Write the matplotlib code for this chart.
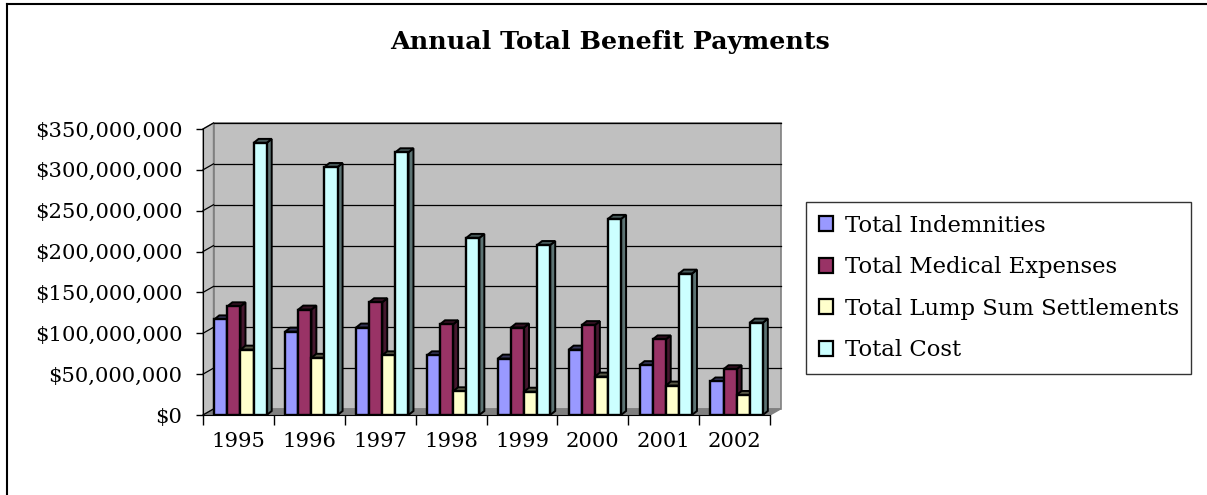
import matplotlib
matplotlib.use("Agg")
import matplotlib.pyplot as plt
import numpy as np
from matplotlib.patches import Polygon, Rectangle, Patch
from matplotlib.lines import Line2D
from matplotlib.ticker import FuncFormatter, MultipleLocator

years = ['1995', '1996', '1997', '1998', '1999', '2000', '2001', '2002']
indemnities = [117e6, 102e6, 107e6, 73e6, 69e6, 80e6, 61e6, 41e6]
medical = [133e6, 129e6, 138e6, 111e6, 107e6, 110e6, 92.5e6, 56e6]
lump_sum = [80e6, 70e6, 73e6, 29e6, 28.5e6, 47e6, 36e6, 24.5e6]
total_cost = [333e6, 303.5e6, 321.5e6, 216.7e6, 208e6, 240e6, 173e6, 113e6]
series_names = ['Total Indemnities', 'Total Medical Expenses',
                'Total Lump Sum Settlements', 'Total Cost']
series_colors = ['#9999FF', '#993366', '#FFFFCC', '#CCFFFF']

W, H = 1207, 495
fig = plt.figure(figsize=(W / 100, H / 100), dpi=100)
fig.patch.set_facecolor('white')

ax_l, ax_r, ax_b, ax_t = 203, 770, 415, 129
ax = fig.add_axes([ax_l / W, (H - ax_b) / H, (ax_r - ax_l) / W, (ax_b - ax_t) / H])
ymax = 350e6
ax.set_xlim(0, len(years))
ax.set_ylim(0, ymax)
ax.set_facecolor('none')

px_x = (ax_r - ax_l) / len(years)
px_y = (ax_b - ax_t) / ymax
dx = 10.5 / px_x
dy = 6 / px_y
n = len(years)

# back wall
ax.add_patch(Rectangle((dx, dy), n, ymax, facecolor='#C0C0C0', edgecolor='#808080',
                       lw=1.2, zorder=0.5, clip_on=False))
# left wall
ax.add_patch(Polygon([(0, 0), (dx, dy), (dx, ymax + dy), (0, ymax)], closed=True,
                     facecolor='#C0C0C0', edgecolor='#808080', lw=1.0, zorder=0.6, clip_on=False))
# floor
ax.add_patch(Polygon([(0, 0), (n, 0), (n + dx, dy), (dx, dy)], closed=True,
                     facecolor='#808080', edgecolor='#808080', lw=1.0, zorder=0.7, clip_on=False))
# gridlines on back wall + connectors on left wall
for v in np.arange(50e6, ymax + 1, 50e6):
    ax.plot([dx, n + dx], [v + dy, v + dy], color='black', lw=0.9, zorder=0.8, clip_on=False)
for v in np.arange(0, ymax + 1, 50e6):
    ax.plot([0, dx], [v, v + dy], color='black', lw=0.9, zorder=0.8, clip_on=False)

# bars
group_off = 0.159
bw = 0.185
bdx = 5 / px_x
bdy = 4 / px_y
all_series = [indemnities, medical, lump_sum, total_cost]
z = 2.0
for ci in range(n):
    for si, (vals, col) in enumerate(zip(all_series, series_colors)):
        x0 = ci + group_off + si * bw
        x1 = x0 + bw
        v = vals[ci]
        c = np.array(matplotlib.colors.to_rgb(col))
        side = c * 0.45
        top = c * 0.35
        ax.add_patch(Polygon([(x1, 0), (x1 + bdx, bdy), (x1 + bdx, v + bdy), (x1, v)], closed=True,
                             facecolor=side, edgecolor='black', lw=1.4, zorder=z, clip_on=False))
        ax.add_patch(Polygon([(x0, v), (x1, v), (x1 + bdx, v + bdy), (x0 + bdx, v + bdy)], closed=True,
                             facecolor=top, edgecolor='black', lw=1.4, zorder=z + 0.001, clip_on=False))
        ax.bar([x0], [v], width=bw, align='edge', color=col, edgecolor='black', lw=1.7,
               zorder=z + 0.002)
        z += 0.01

# spines & ticks
for s in ['top', 'right']:
    ax.spines[s].set_visible(False)
ax.spines['left'].set_color('black')
ax.spines['bottom'].set_color('black')
ax.spines['left'].set_zorder(1)
ax.spines['bottom'].set_zorder(1)
ax.yaxis.set_major_locator(MultipleLocator(50e6))
ax.yaxis.set_major_formatter(FuncFormatter(lambda v, p: '${:,.0f}'.format(v)))
ax.tick_params(axis='y', length=5, width=1, pad=10, labelsize=15.2)
ax.set_xticks(np.arange(n) + 0.5)
ax.set_xticklabels(years)
ax.set_xticks(np.arange(n + 1), minor=True)
ax.tick_params(axis='x', which='major', length=0, pad=12, labelsize=15.2)
ax.tick_params(axis='x', which='minor', length=7, width=1)
for lbl in ax.get_xticklabels() + ax.get_yticklabels():
    lbl.set_family('DejaVu Serif')

# title
fig.text(609.5 / W, 1 - 42 / H, 'Annual Total Benefit Payments', ha='center', va='center',
         family='DejaVu Serif', fontweight='bold', fontsize=18.3)

# legend
handles = [Patch(facecolor=c, edgecolor='black', lw=1.6) for c in series_colors]
leg = fig.legend(handles, series_names, loc='upper left',
                 bbox_to_anchor=(806 / W, 1 - 202 / H), frameon=True, fancybox=False,
                 prop={'family': 'DejaVu Serif', 'size': 16.4}, handlelength=0.65, handleheight=0.65,
                 handletextpad=0.5, labelspacing=0.86, borderpad=0.55, borderaxespad=0)
leg.get_frame().set_edgecolor('black')
leg.get_frame().set_linewidth(1.0)

# outer frame (top and left visible)
fig.add_artist(Line2D([7 / W, 1], [1 - 4 / H, 1 - 4 / H], transform=fig.transFigure, color='black', lw=1.5))
fig.add_artist(Line2D([7 / W, 7 / W], [0, 1 - 4 / H], transform=fig.transFigure, color='black', lw=1.5))

fig.savefig('out.png', dpi=100)
